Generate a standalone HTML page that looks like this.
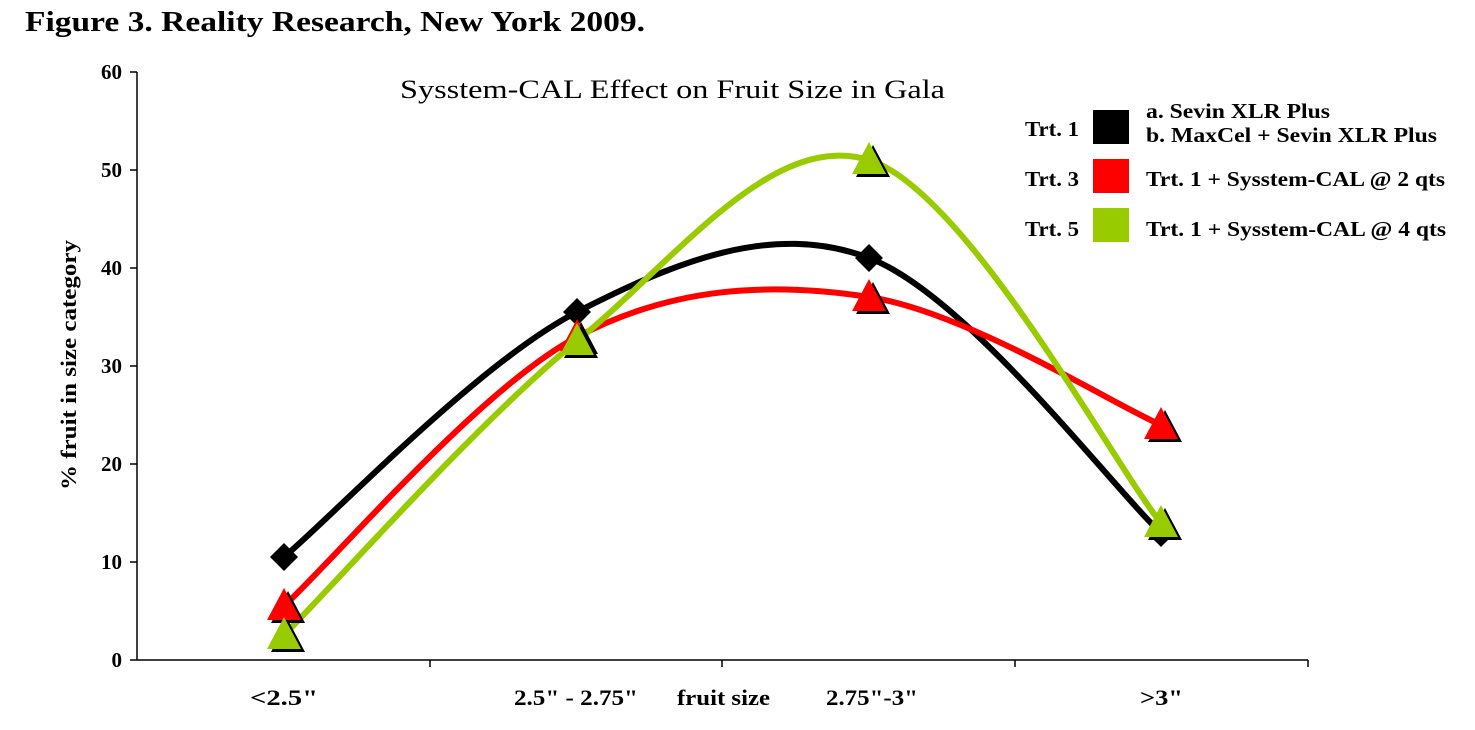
<!DOCTYPE html>
<html><head><style>body{margin:0;background:#fff}</style></head><body>
<svg width="1475" height="725" xmlns="http://www.w3.org/2000/svg" font-family="Liberation Serif, serif">
<text x="25" y="31" font-size="29" font-weight="bold" textLength="620" lengthAdjust="spacingAndGlyphs">Figure 3. Reality Research, New York 2009.</text>
<text x="400" y="98" font-size="26" textLength="545" lengthAdjust="spacingAndGlyphs">Sysstem-CAL Effect on Fruit Size in Gala</text>
<g stroke="#000" stroke-width="1.5">
<line x1="137" y1="72" x2="137" y2="660"/>
<line x1="137" y1="660" x2="1308" y2="660"/>
<line x1="130" y1="72" x2="137" y2="72"/><line x1="130" y1="170" x2="137" y2="170"/><line x1="130" y1="268" x2="137" y2="268"/><line x1="130" y1="366" x2="137" y2="366"/><line x1="130" y1="464" x2="137" y2="464"/><line x1="130" y1="562" x2="137" y2="562"/><line x1="130" y1="660" x2="137" y2="660"/>
<line x1="430" y1="660" x2="430" y2="667"/><line x1="722" y1="660" x2="722" y2="667"/><line x1="1015" y1="660" x2="1015" y2="667"/><line x1="1308" y1="660" x2="1308" y2="667"/>
</g>
<g font-size="21" font-weight="bold" text-anchor="end">
<text x="122" y="79">60</text><text x="122" y="177">50</text><text x="122" y="275">40</text><text x="122" y="373">30</text><text x="122" y="471">20</text><text x="122" y="569">10</text><text x="122" y="667">0</text>
</g>
<text transform="translate(76,490) rotate(-90)" font-size="22" font-weight="bold" textLength="250" lengthAdjust="spacingAndGlyphs">% fruit in size category</text>
<g font-size="22" font-weight="bold">
<text x="250" y="705" textLength="68" lengthAdjust="spacingAndGlyphs">&lt;2.5"</text>
<text x="514" y="705" textLength="124" lengthAdjust="spacingAndGlyphs">2.5" - 2.75"</text>
<text x="677" y="705" textLength="93" lengthAdjust="spacingAndGlyphs">fruit size</text>
<text x="826" y="705" textLength="92" lengthAdjust="spacingAndGlyphs">2.75"-3"</text>
<text x="1140" y="705" textLength="43" lengthAdjust="spacingAndGlyphs">&gt;3"</text>
</g>
<g fill="none" stroke-width="6">
<path stroke="#000" d="M284,557 C333,516 479.5,361.8 577,312 C674.5,262.2 771.7,221.2 869,258 C966.3,294.8 1112.3,487.2 1161,533"/>
<path stroke="#ff0000" d="M284,606 C333,561.2 479.5,388.5 577,337 C674.5,285.5 771.7,282.3 869,297 C966.3,311.7 1112.3,403.7 1161,425"/>
<path stroke="#99cc00" d="M284,635 C333,586 479.5,420.2 577,341 C674.5,261.8 771.7,129.7 869,160 C966.3,190.3 1112.3,462.5 1161,523"/>
</g>
<g fill="#000">
<path d="M284,543 L298,557 L284,571 L270,557Z"/><path d="M577,298 L591,312 L577,326 L563,312Z"/><path d="M869,244 L883,258 L869,272 L855,258Z"/><path d="M1161,519 L1175,533 L1161,547 L1147,533Z"/>
</g>
<g>
<path fill="#000" d="M288,591 L305,623 L271,623Z"/><path fill="#ff0000" d="M284,588 L301,620 L267,620Z"/>
<path fill="#000" d="M581,322 L598,354 L564,354Z"/><path fill="#ff0000" d="M577,319 L594,351 L560,351Z"/>
<path fill="#000" d="M873,282 L890,314 L856,314Z"/><path fill="#ff0000" d="M869,279 L886,311 L852,311Z"/>
<path fill="#000" d="M1165,410 L1182,442 L1148,442Z"/><path fill="#ff0000" d="M1161,407 L1178,439 L1144,439Z"/>
<path fill="#000" d="M288,620 L305,652 L271,652Z"/><path fill="#99cc00" d="M284,617 L301,649 L267,649Z"/>
<path fill="#000" d="M581,326 L598,358 L564,358Z"/><path fill="#99cc00" d="M577,323 L594,355 L560,355Z"/>
<path fill="#000" d="M873,145 L890,177 L856,177Z"/><path fill="#99cc00" d="M869,142 L886,174 L852,174Z"/>
<path fill="#000" d="M1165,508 L1182,540 L1148,540Z"/><path fill="#99cc00" d="M1161,505 L1178,537 L1144,537Z"/>
</g>
<g font-size="21" font-weight="bold">
<text x="1025" y="136" textLength="54" lengthAdjust="spacingAndGlyphs">Trt. 1</text>
<rect x="1093" y="110" width="36" height="34" fill="#000"/>
<text x="1146" y="118" textLength="184" lengthAdjust="spacingAndGlyphs">a. Sevin XLR Plus</text>
<text x="1146" y="142" textLength="291" lengthAdjust="spacingAndGlyphs">b. MaxCel + Sevin XLR Plus</text>
<text x="1025" y="186" textLength="54" lengthAdjust="spacingAndGlyphs">Trt. 3</text>
<rect x="1093" y="159" width="36" height="34" fill="#ff0000"/>
<text x="1146" y="186" textLength="299" lengthAdjust="spacingAndGlyphs">Trt. 1 + Sysstem-CAL @ 2 qts</text>
<text x="1025" y="236" textLength="54" lengthAdjust="spacingAndGlyphs">Trt. 5</text>
<rect x="1093" y="208" width="36" height="34" fill="#99cc00"/>
<text x="1146" y="236" textLength="300" lengthAdjust="spacingAndGlyphs">Trt. 1 + Sysstem-CAL @ 4 qts</text>
</g>
</svg>
</body></html>
